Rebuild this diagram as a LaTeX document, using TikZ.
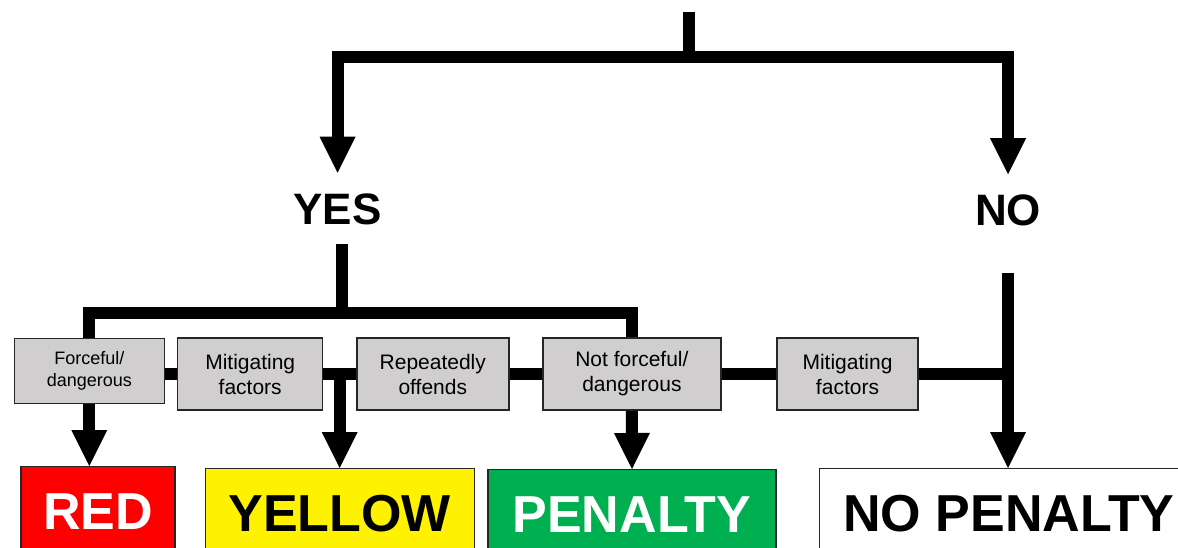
\documentclass[tikz,border=0pt]{standalone}
\usepackage{fontspec}
\setmainfont{Liberation Sans}
\usetikzlibrary{arrows.meta}

\definecolor{crit-gray}{RGB}{208,206,206}
\definecolor{penalty-green}{RGB}{0,176,80}

\begin{document}
\begin{tikzpicture}[
        x=1pt, y=-1pt,
        bar/.style={
            line width=12pt,
        },
        bar-arrow/.style={
            line width=12pt,
            -{Triangle[width=36pt, length=36pt, line width=0pt]},
        },
        answer/.style={
            font=\bfseries\fontsize{44}{44}\selectfont,
            inner sep=0pt,
            text height=31.5pt,
            text depth=0pt,
            outer ysep=20pt,
        },
        crit-box/.style={
            draw=black!85,
            line width=1.5pt,
            fill=crit-gray,
            align=center,
            inner sep=0pt,
            minimum height=72pt,
            font=\fontsize{21}{25}\selectfont,
        },
        result-box/.style={
            draw=black!85,
            line width=1.2pt,
            anchor=north,
            inner xsep=0pt,
            inner ysep=26pt,
            text height=37.2pt,
            text depth=80pt,
            font=\bfseries\fontsize{52}{52}\selectfont,
        },
    ]
    \useasboundingbox (0, 0) rectangle (1178, 548);
    \clip (0, 0) rectangle (1178, 548);

    \coordinate (start) at (689, 11.7);
    \coordinate (split) at (689, 56.7);
    \coordinate (fork) at (342, 312.5);

    \node[answer] (yes) at (337.5, 208.5) {YES};
    \node[answer] (no) at (1008, 210) {NO};

    \node[crit-box, minimum width=150pt, minimum height=65pt,
        font=\fontsize{18}{21.5}\selectfont] (forceful) at (89.3, 371) {Forceful/\\dangerous};
    \node[crit-box, minimum width=145pt] (mitigating-1) at (250.2, 374) {Mitigating\\factors};
    \node[crit-box, minimum width=152pt] (repeated) at (432.8, 374) {Repeatedly\\offends};
    \node[crit-box, minimum width=178pt] (not-forceful) at (631.9, 374) {Not forceful/\\dangerous};
    \node[crit-box, minimum width=141pt] (mitigating-2) at (847.5, 374) {Mitigating\\factors};

    \node[result-box, fill=red, text=white, minimum width=154pt] (red-card) at (98, 466) {RED};
    \node[result-box, fill=yellow, minimum width=269pt] (yellow-card) at (339.7, 468) {YELLOW};
    \node[result-box, fill=penalty-green, text=white, minimum width=288pt] (penalty) at (632, 469) {PENALTY};
    \node[result-box, fill=white, minimum width=379pt] (no-penalty) at (1009, 468) {NO PENALTY};

    \draw[bar] (start) -- (split);
    \draw[bar-arrow] (split) -| (yes.north);
    \draw[bar-arrow] (split) -| (no.north);

    \draw[bar] (fork |- yes.south) -- (fork);
    \draw[bar] (fork) -| (forceful.north);
    \draw[bar] (fork) -| (not-forceful.north);

    \draw[bar] (mitigating-1.west -| forceful.east) -- (mitigating-1.west);
    \draw[bar] (mitigating-1) -- (repeated);
    \draw[bar] (repeated) -- (not-forceful);
    \draw[bar] (not-forceful) -- (mitigating-2);
    \draw[bar] (mitigating-2) -- (mitigating-2 -| no);

    \draw[bar-arrow] (forceful.south) -- (forceful.south |- red-card.north);
    \draw[bar-arrow] (yellow-card.north |- repeated) -- (yellow-card.north);
    \draw[bar-arrow] (not-forceful.south) -- (penalty.north);
    \draw[bar-arrow] ([yshift=-27pt]no.south) -- (no.south |- no-penalty.north);
\end{tikzpicture}
\end{document}
